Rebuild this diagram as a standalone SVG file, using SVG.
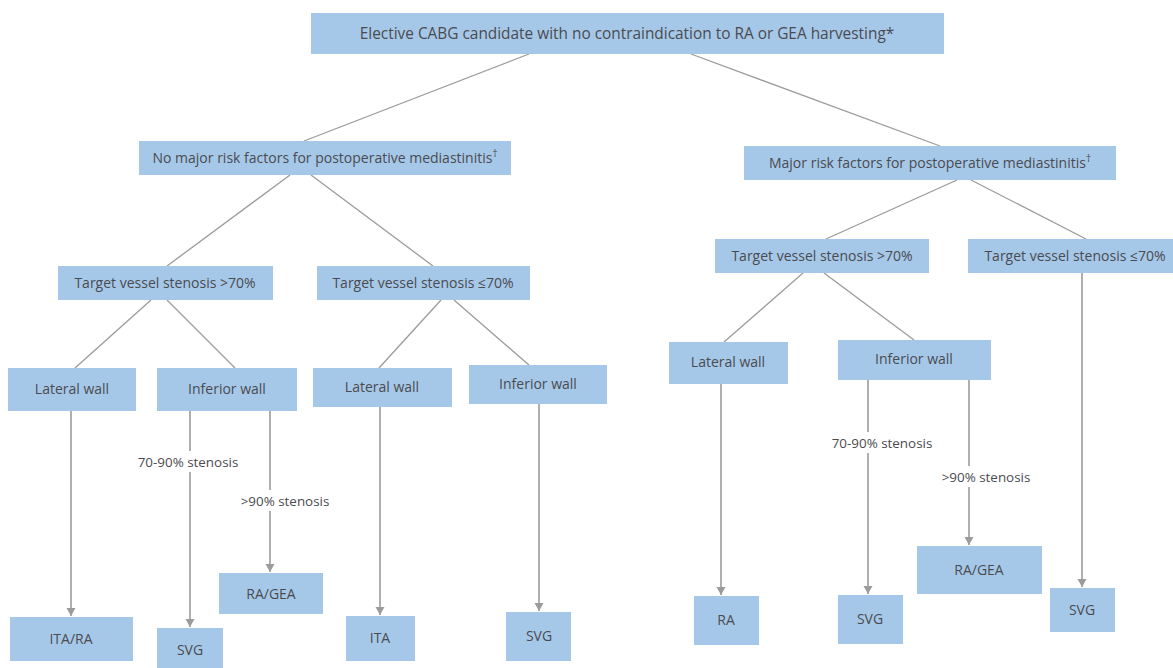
<svg xmlns="http://www.w3.org/2000/svg" width="1173" height="668" viewBox="0 0 1173 668">
<style>
.box{fill:#a6c8e8}
text{font-family:"Open Sans","Noto Sans","Liberation Sans",sans-serif;fill:#4a4b50;font-size:14px;text-anchor:middle}
text.lbl{font-size:13.4px}
text.big{font-size:15.4px}
.c{stroke:#9b9b9b;stroke-width:1.3;fill:none}
.a{stroke:#9b9b9b;stroke-width:1.6;fill:none;marker-end:url(#ah)}
.bg{fill:#ffffff}
</style>
<defs>
<marker id="ah" viewBox="0 0 8 12" refX="8" refY="6" markerWidth="8" markerHeight="12" markerUnits="userSpaceOnUse" orient="auto">
<path d="M0,1.5 L8,6 L0,10.5 Z" fill="#9b9b9b"/>
</marker>
</defs>
<rect width="1173" height="668" fill="#ffffff"/>
<g id="connectors">
<line class="c" x1="529" y1="54" x2="304" y2="141"/>
<line class="c" x1="691" y1="54" x2="940" y2="146"/>
<line class="c" x1="290" y1="175" x2="167" y2="266"/>
<line class="c" x1="311" y1="175" x2="433" y2="266"/>
<line class="c" x1="957" y1="180" x2="826" y2="239"/>
<line class="c" x1="971" y1="180" x2="1086" y2="239"/>
<line class="c" x1="151" y1="300" x2="75" y2="368"/>
<line class="c" x1="167" y1="300" x2="235" y2="368"/>
<line class="c" x1="441" y1="300" x2="379" y2="368"/>
<line class="c" x1="454" y1="300" x2="529" y2="365"/>
<line class="c" x1="803" y1="273" x2="724" y2="342"/>
<line class="c" x1="824" y1="273" x2="914" y2="340"/>
<line class="a" x1="71" y1="411" x2="71" y2="616"/>
<line class="a" x1="190" y1="411" x2="190" y2="627"/>
<line class="a" x1="270" y1="411" x2="270" y2="572"/>
<line class="a" x1="380" y1="407" x2="380" y2="615"/>
<line class="a" x1="539" y1="404" x2="539" y2="611"/>
<line class="a" x1="721" y1="384" x2="721" y2="595"/>
<line class="a" x1="868" y1="380" x2="868" y2="594"/>
<line class="a" x1="969" y1="380" x2="969" y2="545"/>
<line class="a" x1="1082" y1="273" x2="1082" y2="587"/>
<rect class="bg" x="132" y="451" width="112" height="21"/>
<text class="lbl" x="188" y="467">70-90% stenosis</text>
<rect class="bg" x="236" y="490" width="98" height="21"/>
<text class="lbl" x="285" y="506">&gt;90% stenosis</text>
<rect class="bg" x="826" y="432" width="112" height="21"/>
<text class="lbl" x="882" y="448">70-90% stenosis</text>
<rect class="bg" x="937" y="466" width="98" height="21"/>
<text class="lbl" x="986" y="482">&gt;90% stenosis</text>
</g>
<g id="n-top"><rect class="box" x="311" y="13" width="633" height="41"/><text class="big" x="627" y="39">Elective CABG candidate with no contraindication to RA or GEA harvesting*</text></g>
<g id="n-nomajor"><rect class="box" x="139" y="141" width="372" height="34"/><text x="325" y="163">No major risk factors for postoperative mediastinitis<tspan font-size="10" dy="-6">†</tspan></text></g>
<g id="n-major"><rect class="box" x="744" y="146" width="372" height="34"/><text x="930" y="168">Major risk factors for postoperative mediastinitis<tspan font-size="10" dy="-6">†</tspan></text></g>
<g id="n-l-gt70"><rect class="box" x="58" y="266" width="215" height="34"/><text x="165" y="288">Target vessel stenosis &gt;70%</text></g>
<g id="n-l-le70"><rect class="box" x="317" y="266" width="213" height="34"/><text x="423" y="288">Target vessel stenosis ≤70%</text></g>
<g id="n-r-gt70"><rect class="box" x="715" y="239" width="214" height="34"/><text x="822" y="261">Target vessel stenosis &gt;70%</text></g>
<g id="n-r-le70"><rect class="box" x="968" y="239" width="205" height="34"/><text x="1075" y="261">Target vessel stenosis ≤70%</text></g>
<g id="n-lat1"><rect class="box" x="8" y="368" width="128" height="43"/><text x="72" y="394">Lateral wall</text></g>
<g id="n-inf1"><rect class="box" x="157" y="368" width="140" height="43"/><text x="227" y="394">Inferior wall</text></g>
<g id="n-lat2"><rect class="box" x="313" y="368" width="139" height="39"/><text x="382" y="392">Lateral wall</text></g>
<g id="n-inf2"><rect class="box" x="469" y="365" width="138" height="39"/><text x="538" y="389">Inferior wall</text></g>
<g id="n-lat3"><rect class="box" x="669" y="342" width="119" height="42"/><text x="728" y="367">Lateral wall</text></g>
<g id="n-inf3"><rect class="box" x="838" y="340" width="153" height="40"/><text x="914" y="364">Inferior wall</text></g>
<g id="n-itara"><rect class="box" x="10" y="617" width="123" height="44"/><text x="71" y="644">ITA/RA</text></g>
<g id="n-svg1"><rect class="box" x="157" y="628" width="66" height="40"/><text x="190" y="655">SVG</text></g>
<g id="n-ragea1"><rect class="box" x="219" y="573" width="104" height="41"/><text x="271" y="599">RA/GEA</text></g>
<g id="n-ita"><rect class="box" x="346" y="616" width="69" height="45"/><text x="380" y="643">ITA</text></g>
<g id="n-svg2"><rect class="box" x="506" y="612" width="65" height="49"/><text x="539" y="641">SVG</text></g>
<g id="n-ra"><rect class="box" x="694" y="596" width="65" height="49"/><text x="726" y="625">RA</text></g>
<g id="n-svg3"><rect class="box" x="838" y="595" width="65" height="49"/><text x="870" y="624">SVG</text></g>
<g id="n-ragea2"><rect class="box" x="917" y="546" width="125" height="48"/><text x="979" y="575">RA/GEA</text></g>
<g id="n-svg4"><rect class="box" x="1050" y="588" width="65" height="44"/><text x="1082" y="615">SVG</text></g>
</svg>
